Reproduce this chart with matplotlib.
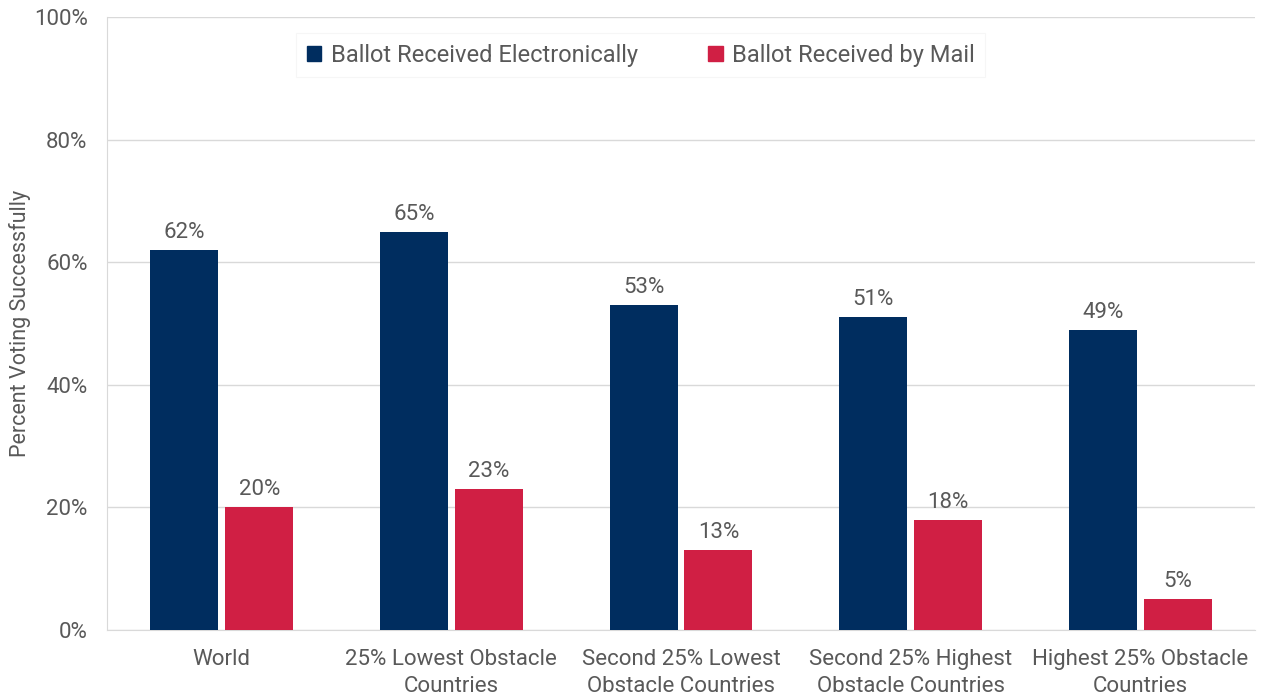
import matplotlib.pyplot as plt
import numpy as np
from matplotlib.patches import Patch

# данные
categories = ['World', '25% Lowest Obstacle\nCountries', 'Second 25% Lowest\nObstacle Countries',
              'Second 25% Highest\nObstacle Countries', 'Highest 25% Obstacle\nCountries']
electronic = [62, 65, 53, 51, 49]
mail = [20, 23, 13, 18, 5]
series_names = ['Ballot Received Electronically', 'Ballot Received by Mail']

navy = '#002D5F'
red = '#D01F44'
grey_text = '#595959'
grid_col = '#D9D9D9'

plt.rcParams['font.family'] = ['Roboto', 'DejaVu Sans']

fig = plt.figure(figsize=(12.62, 6.98), dpi=100)
ax = fig.add_axes([0.0848, 0.0974, 0.9097, 0.8782])

x = np.arange(len(categories))
w = 0.296
off = 0.163
b1 = ax.bar(x - off, electronic, w, color=navy, zorder=3)
b2 = ax.bar(x + off, mail, w, color=red, zorder=3)

# подписи над столбцами
for bars, vals in ((b1, electronic), (b2, mail)):
    for b, v in zip(bars, vals):
        ax.annotate(f'{v}%', (b.get_x() + b.get_width() / 2, v), xytext=(0, 5),
                    textcoords='offset points', ha='center', va='bottom',
                    fontsize=16, color=grey_text)

ax.set_xlim(-0.5, len(categories) - 0.5)
ax.set_ylim(0, 100)
ax.set_yticks(range(0, 101, 20))
ax.set_yticklabels([f'{t}%' for t in range(0, 101, 20)])
ax.yaxis.grid(True, color=grid_col, linewidth=1, zorder=0)
ax.set_xticks(x)
ax.set_xticklabels(categories, linespacing=1.35)
ax.tick_params(axis='both', length=0, labelsize=16, labelcolor=grey_text)
ax.tick_params(axis='x', pad=14)
ax.tick_params(axis='y', pad=14)

for s in ('top', 'right'):
    ax.spines[s].set_visible(False)
ax.spines['left'].set_color(grid_col)
ax.spines['bottom'].set_color(grid_col)

ax.set_ylabel('Percent Voting Successfully', fontsize=15.5, color=grey_text, labelpad=2)

handles = [Patch(color=navy), Patch(color=red)]
leg = ax.legend(handles, series_names, loc='upper center', bbox_to_anchor=(0.465, 0.993),
                ncol=2, fontsize=17, frameon=True, handlelength=0.6, handleheight=0.6,
                handletextpad=0.4, columnspacing=3.0, borderpad=0.45, fancybox=False)
leg.get_frame().set_edgecolor('#F4F4F4')
leg.get_frame().set_linewidth(0.8)
for t in leg.get_texts():
    t.set_color(grey_text)

plt.savefig('out.png', dpi=100)
